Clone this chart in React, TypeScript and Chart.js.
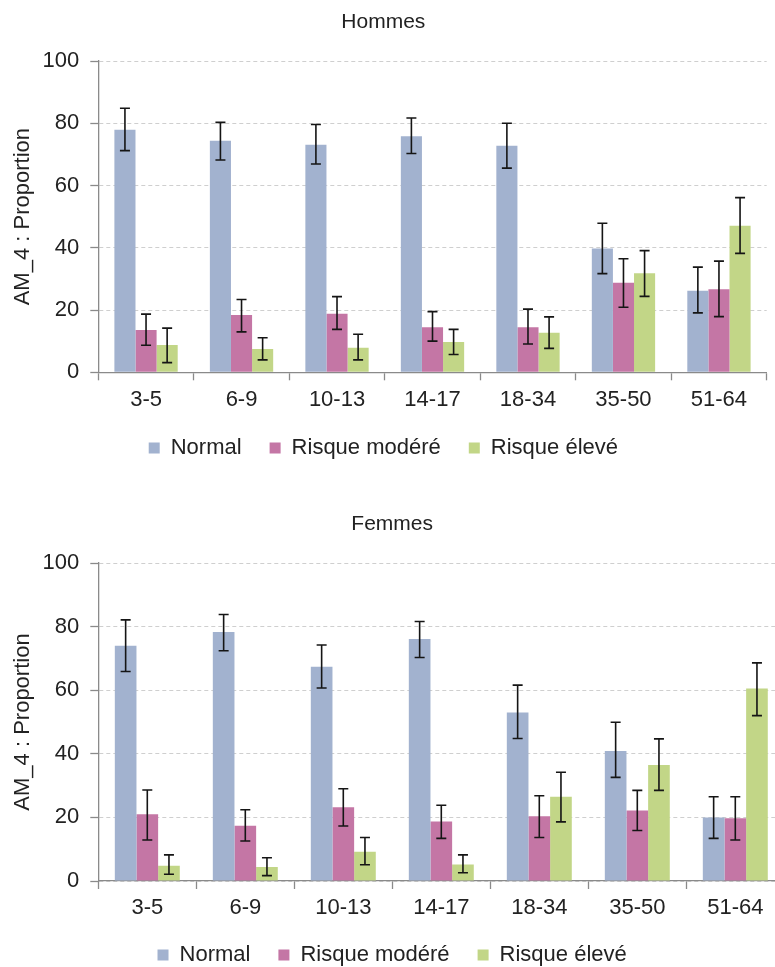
import React, { useEffect, useRef } from 'react';
import { Chart, registerables } from 'chart.js';

Chart.register(...registerables);

const FONT = "'Liberation Sans', Arial, sans-serif";
const TEXT_COLOR = '#222222';
const AXIS_COLOR = '#8a8a8a';
const GRID_COLOR = '#cfcfcf';

const categories = ['3-5', '6-9', '10-13', '14-17', '18-34', '35-50', '51-64'];
const seriesLabels = ['Normal', 'Risque modéré', 'Risque élevé'];
const seriesColors = ['#A2B2CF', '#C476A5', '#C2D687'];
const yTicks = [0, 20, 40, 60, 80, 100];
const yAxisTitle = 'AM_4 : Proportion';

// Hommes
const hommesNormal = [77.9, 74.4, 73.1, 75.8, 72.8, 39.8, 26.2];
const hommesNormalLow = [71.2, 68.2, 66.9, 70.3, 65.6, 31.7, 19.1];
const hommesNormalHigh = [84.8, 80.3, 79.6, 81.7, 80.0, 47.9, 33.8];
const hommesModere = [13.6, 18.4, 18.8, 14.5, 14.5, 28.8, 26.7];
const hommesModereLow = [8.7, 13.0, 13.8, 10.0, 9.1, 20.9, 17.9];
const hommesModereHigh = [18.7, 23.4, 24.3, 19.5, 20.3, 36.5, 35.7];
const hommesEleve = [8.8, 7.5, 7.9, 9.7, 12.7, 31.8, 47.1];
const hommesEleveLow = [3.1, 4.0, 4.0, 5.7, 7.7, 24.4, 38.2];
const hommesEleveHigh = [14.2, 11.1, 12.2, 13.8, 17.8, 39.1, 56.1];

// Femmes
const femmesNormal = [74.0, 78.3, 67.4, 76.1, 53.0, 40.9, 20.0];
const femmesNormalLow = [65.9, 72.4, 60.7, 70.3, 44.8, 32.6, 13.4];
const femmesNormalHigh = [82.1, 83.8, 74.2, 81.6, 61.6, 49.9, 26.5];
const femmesModere = [21.0, 17.4, 23.2, 18.7, 20.4, 22.2, 19.7];
const femmesModereLow = [12.9, 12.6, 17.3, 13.4, 13.7, 15.9, 12.9];
const femmesModereHigh = [28.6, 22.4, 29.0, 23.8, 26.8, 28.5, 26.5];
const femmesEleve = [4.8, 4.4, 9.2, 5.2, 26.5, 36.5, 60.5];
const femmesEleveLow = [2.1, 1.7, 5.1, 2.6, 18.6, 28.5, 52.0];
const femmesEleveHigh = [8.2, 7.3, 13.7, 8.2, 34.2, 44.7, 68.6];

const errorBarPlugin = {
  id: 'errorBars',
  afterDatasetsDraw(chart: any) {
    const { ctx } = chart;
    const yScale = chart.scales.y;
    ctx.save();
    ctx.strokeStyle = '#151515';
    ctx.lineWidth = 1.6;
    chart.data.datasets.forEach((ds: any, i: number) => {
      const meta = chart.getDatasetMeta(i);
      if (meta.hidden) return;
      meta.data.forEach((bar: any, j: number) => {
        const x = bar.x;
        const yl = yScale.getPixelForValue(ds.errLow[j]);
        const yh = yScale.getPixelForValue(ds.errHigh[j]);
        const half = 5;
        ctx.beginPath();
        ctx.moveTo(x, yl);
        ctx.lineTo(x, yh);
        ctx.moveTo(x - half, yl);
        ctx.lineTo(x + half, yl);
        ctx.moveTo(x - half, yh);
        ctx.lineTo(x + half, yh);
        ctx.stroke();
      });
    });
    ctx.restore();
  },
};

type Layout = {
  padRight: number;
  titleTop: number;
  titleBottom: number;
  xHeight: number;
  yWidth: number;
};

function makeConfig(
  title: string,
  values: number[][],
  lows: number[][],
  highs: number[][],
  lay: Layout
): any {
  return {
    type: 'bar',
    data: {
      labels: categories,
      datasets: seriesLabels.map((label, i) => ({
        label,
        data: values[i],
        errLow: lows[i],
        errHigh: highs[i],
        backgroundColor: seriesColors[i],
        borderWidth: 0,
        categoryPercentage: 0.663,
        barPercentage: 1.0,
      })),
    },
    options: {
      responsive: false,
      animation: false,
      events: [],
      layout: { padding: { left: 0, right: lay.padRight, top: 0, bottom: 0 } },
      plugins: {
        title: {
          display: true,
          text: title,
          color: TEXT_COLOR,
          font: { family: FONT, size: 21, weight: 'normal' },
          padding: { top: lay.titleTop, bottom: lay.titleBottom },
        },
        legend: {
          display: true,
          position: 'bottom',
          labels: {
            boxWidth: 11,
            boxHeight: 11,
            padding: 28,
            color: TEXT_COLOR,
            font: { family: FONT, size: 22 },
          },
        },
        tooltip: { enabled: false },
      },
      scales: {
        x: {
          type: 'category',
          offset: true,
          grid: {
            offset: true,
            drawOnChartArea: false,
            drawTicks: true,
            tickLength: 8,
            tickColor: AXIS_COLOR,
            tickWidth: 1.3,
          },
          border: { display: true, color: AXIS_COLOR, width: 1.3 },
          ticks: {
            color: TEXT_COLOR,
            font: { family: FONT, size: 22 },
            padding: 6,
            maxRotation: 0,
            autoSkip: false,
          },
          afterFit: (scale: any) => {
            scale.height = lay.xHeight;
          },
        },
        y: {
          min: 0,
          max: 100,
          afterBuildTicks: (scale: any) => {
            scale.ticks = yTicks.map((v) => ({ value: v }));
          },
          grid: {
            color: GRID_COLOR,
            lineWidth: 1,
            drawTicks: true,
            tickLength: 8,
            tickColor: AXIS_COLOR,
            tickWidth: 1.3,
            tickBorderDash: [],
          },
          border: { display: true, color: AXIS_COLOR, width: 1.3, dash: [4, 3] },
          ticks: {
            color: TEXT_COLOR,
            font: { family: FONT, size: 22 },
            padding: 11,
          },
          title: {
            display: true,
            text: yAxisTitle,
            color: TEXT_COLOR,
            font: { family: FONT, size: 22 },
            padding: { top: 10, bottom: 0 },
          },
          afterFit: (scale: any) => {
            scale.width = lay.yWidth;
          },
        },
      },
    },
    plugins: [errorBarPlugin],
  };
}

export default function App() {
  const topRef = useRef<HTMLCanvasElement | null>(null);
  const bottomRef = useRef<HTMLCanvasElement | null>(null);

  useEffect(() => {
    document.body.style.margin = '0';
    const top = new Chart(
      topRef.current as HTMLCanvasElement,
      makeConfig(
        'Hommes',
        [hommesNormal, hommesModere, hommesEleve],
        [hommesNormalLow, hommesModereLow, hommesEleveLow],
        [hommesNormalHigh, hommesModereHigh, hommesEleveHigh],
        { padRight: 8.3, titleTop: 9.4, titleBottom: 26.4, xHeight: 36.7, yWidth: 98.3 }
      )
    );
    const bottom = new Chart(
      bottomRef.current as HTMLCanvasElement,
      makeConfig(
        'Femmes',
        [femmesNormal, femmesModere, femmesEleve],
        [femmesNormalLow, femmesModereLow, femmesEleveLow],
        [femmesNormalHigh, femmesModereHigh, femmesEleveHigh],
        { padRight: 0.7, titleTop: 42.4, titleBottom: 26.4, xHeight: 35, yWidth: 98.3 }
      )
    );
    return () => {
      top.destroy();
      bottom.destroy();
    };
  }, []);

  return (
    <div
      style={{
        position: 'relative',
        width: 775,
        height: 967,
        overflow: 'hidden',
        background: '#ffffff',
      }}
    >
      <div style={{ position: 'absolute', left: 0, top: 0, width: 775, height: 469 }}>
        <canvas ref={topRef} width={775} height={469} style={{ width: 775, height: 469, display: 'block' }} />
      </div>
      <div style={{ position: 'absolute', left: 0, top: 469, width: 785, height: 507 }}>
        <canvas ref={bottomRef} width={785} height={507} style={{ width: 785, height: 507, display: 'block' }} />
      </div>
    </div>
  );
}
